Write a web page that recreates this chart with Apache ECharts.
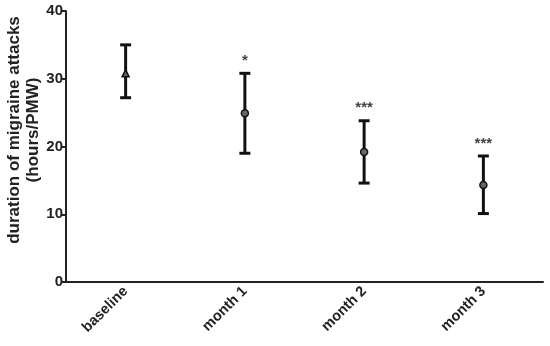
<!DOCTYPE html>
<html><head><meta charset="utf-8">
<script src="https://cdn.jsdelivr.net/npm/echarts@6/dist/echarts.min.js"></script>
<style>html,body{margin:0;padding:0;background:#fff}#c{width:550px;height:346px}</style>
</head><body><div id="c"></div>
<script>
var categories = ['baseline', 'month 1', 'month 2', 'month 3'];
var means = [30.8, 24.9, 19.2, 14.3];
var upper = [35.0, 30.8, 23.8, 18.6];
var lower = [27.2, 19.0, 14.6, 10.1];
var stars = ['', '*', '***', '***'];
var yTicks = [0, 10, 20, 30, 40];
var yTitle = 'duration of migraine attacks\n(hours/PMW)';

var chart = echarts.init(document.getElementById('c'));
var errData = categories.map(function (c, i) { return [i, lower[i], upper[i], stars[i]]; });
var font = 'Liberation Sans, Arial, sans-serif';
chart.setOption({
  animation: false,
  grid: { left: 66, right: 7, top: 11, bottom: 64, outerBoundsMode: 'none', containLabel: false },
  graphic: [{
    type: 'text', x: 24, y: 130, rotation: Math.PI / 2,
    style: { text: yTitle, align: 'center', verticalAlign: 'middle', fill: '#222',
      font: 'bold 17px ' + font, lineHeight: 19 }
  }],
  xAxis: {
    type: 'category', data: categories, boundaryGap: true,
    axisLine: { lineStyle: { color: '#222', width: 2 } },
    axisTick: { alignWithLabel: true, length: 5, lineStyle: { color: '#222', width: 2 } },
    axisLabel: { rotate: 45, color: '#222', fontWeight: 'bold', fontSize: 14.5, fontFamily: font, margin: 7 }
  },
  yAxis: {
    type: 'value', min: 0, max: 40, interval: 10,
    axisLine: { show: true, lineStyle: { color: '#222', width: 2 } },
    axisTick: { show: true, length: 5, lineStyle: { color: '#222', width: 2 } },
    axisLabel: { color: '#222', fontWeight: 'bold', fontSize: 15, fontFamily: font, margin: 3,
      formatter: function (v) { return yTicks.indexOf(v) >= 0 ? String(v) : ''; } },
    splitLine: { show: false }
  },
  series: [
    {
      type: 'custom', data: errData,
      renderItem: function (params, api) {
        var x = api.value(0);
        var lo = api.coord([x, api.value(1)]);
        var hi = api.coord([x, api.value(2)]);
        var w = 5.5;
        var st = { stroke: '#111', lineWidth: 3 };
        var children = [
          { type: 'line', shape: { x1: hi[0], y1: hi[1], x2: lo[0], y2: lo[1] }, style: st },
          { type: 'line', shape: { x1: hi[0] - w, y1: hi[1], x2: hi[0] + w, y2: hi[1] }, style: st },
          { type: 'line', shape: { x1: lo[0] - w, y1: lo[1], x2: lo[0] + w, y2: lo[1] }, style: st }
        ];
        var s = api.value(3);
        if (s) {
          children.push({ type: 'text', style: { text: s, x: hi[0], y: hi[1] - 5, align: 'center', verticalAlign: 'bottom',
            fill: '#444', font: 'bold 15px ' + font } });
        }
        return { type: 'group', children: children };
      },
      z: 2
    },
    {
      type: 'scatter', data: means.map(function (v, i) { return [i, v]; }),
      symbol: function (v, p) { return p.dataIndex === 0 ? 'triangle' : 'circle'; },
      symbolSize: 7,
      itemStyle: { color: '#666', borderColor: '#111', borderWidth: 1.5, opacity: 1 },
      z: 3
    }
  ]
});
</script></body></html>
